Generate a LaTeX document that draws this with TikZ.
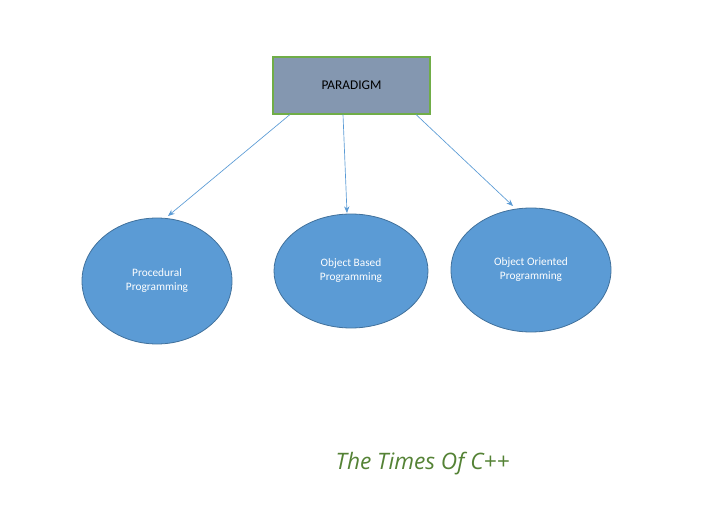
\documentclass[tikz,border=0pt]{standalone}
\usepackage{fontspec}
\setmainfont{Carlito}
\newfontfamily\scriptfnt{Open Sans}
\usetikzlibrary{shapes.geometric,arrows.meta}
\definecolor{boxfill}{HTML}{8497B0}
\definecolor{boxline}{HTML}{70AD47}
\definecolor{ellfill}{HTML}{5B9BD5}
\definecolor{ellline}{HTML}{41719C}
\definecolor{sig}{HTML}{548235}
\begin{document}
\begin{tikzpicture}[x=0.75pt,y=-0.75pt,
  ell/.style={ellipse,draw=ellline,fill=ellfill,line width=0.6pt,inner sep=0pt,font=\fontsize{8.5}{10.5}\selectfont,text=white,align=center},
  conn/.style={draw=ellfill,line width=0.5pt,-{Stealth[length=5pt,width=4pt]}}]
\useasboundingbox (0,0) rectangle (704,517);
\node[draw=boxline,fill=boxfill,line width=0.8pt,minimum width=157*0.75pt,minimum height=57*0.75pt,font=\fontsize{10}{12}\selectfont] (p) at (351.5,85.5) {PARADIGM};
\node[ell,minimum width=150*0.75pt,minimum height=126*0.75pt] (e1) at (157,281) {Procedural\\Programming};
\node[ell,minimum width=154*0.75pt,minimum height=114*0.75pt] (e2) at (351,271) {Object Based\\Programming};
\node[ell,minimum width=160*0.75pt,minimum height=124*0.75pt] (e3) at (531,270) {Object Oriented\\Programming};
\coordinate (s1) at (290,114.5);
\coordinate (s2) at (343,114.5);
\coordinate (s3) at (416,114.5);
\coordinate (t1) at (168,216);
\coordinate (t2) at (347,213);
\coordinate (t3) at (513,206);
\draw[conn] (s1) -- (t1);
\draw[conn] (s2) -- (t2);
\draw[conn] (s3) -- (t3);
\node[font=\scriptfnt\itshape\fontsize{17}{20}\selectfont,text=sig,anchor=west] (sig) at (331,464) {The Times Of C++};
\end{tikzpicture}
\end{document}
